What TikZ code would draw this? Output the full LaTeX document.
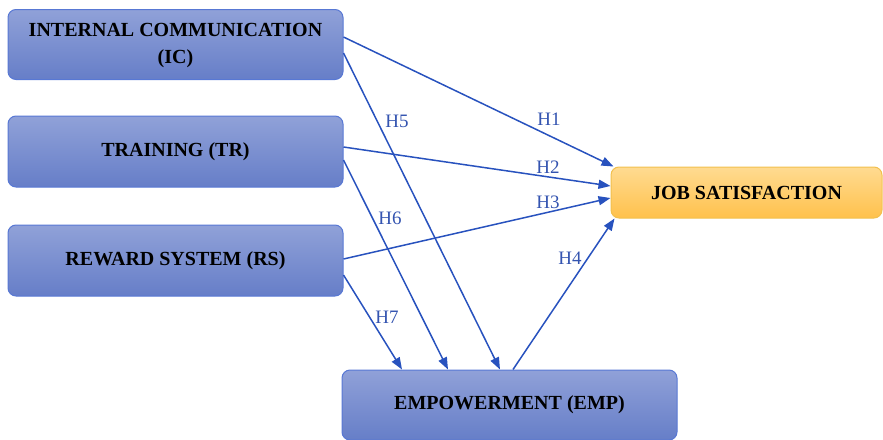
\documentclass[tikz,border=0pt]{standalone}
\usepackage{fontspec}
\setmainfont{Liberation Serif}
\usetikzlibrary{arrows.meta}
\definecolor{boxtop}{RGB}{144,161,216}
\definecolor{boxbot}{RGB}{102,126,200}
\definecolor{boxline}{RGB}{88,120,212}
\definecolor{jstop}{RGB}{255,219,145}
\definecolor{jsbot}{RGB}{255,193,76}
\definecolor{jsline}{RGB}{242,192,78}
\definecolor{arr}{RGB}{40,82,190}
\definecolor{lab}{RGB}{52,84,176}
\tikzset{
  bluebox/.style={draw=boxline, line width=1pt, rounded corners=8pt, top color=boxtop, bottom color=boxbot,
    minimum width=335pt, minimum height=70pt, align=center, inner sep=0pt,
    font=\fontsize{20}{28}\selectfont\bfseries, text=black},
  jsbox/.style={draw=jsline, line width=1pt, rounded corners=8pt, top color=jstop, bottom color=jsbot,
    minimum width=271pt, minimum height=51pt, inner sep=0pt,
    font=\fontsize{20}{28}\selectfont\bfseries, text=black},
  link/.style={draw=arr, line width=1.5pt, -{Triangle[length=12pt,width=9pt]}},
  hlab/.style={text=lab, font=\fontsize{19}{21}\selectfont, inner sep=0pt}
}
\begin{document}
\begin{tikzpicture}[x=1pt,y=-1pt]
\useasboundingbox (0,0) rectangle (883,439);
\node[bluebox] (ic) at (175.5,44.5) {\raisebox{-3pt}{\begin{tabular}{@{}c@{}}INTERNAL COMMUNICATION\\[-0.5pt](IC)\end{tabular}}};
\node[bluebox, minimum height=71pt] (tr) at (175.5,151.5) {TRAINING (TR)};
\node[bluebox, minimum height=71pt] (rs) at (175.5,260.5) {REWARD SYSTEM (RS)};
\node[jsbox] (js) at (746.5,192.5) {JOB SATISFACTION};
\node[bluebox] (emp) at (509.5,405) {EMPOWERMENT (EMP)};

\draw[link] ([yshift=7.5pt]ic.east) -- ([xshift=3pt]js.north west);
\draw[link] ([yshift=-8.5pt]ic.east) -- ([xshift=-9.5pt]emp.north);
\draw[link] ([yshift=4.5pt]tr.east) -- ([yshift=6.5pt]js.west);
\draw[link] ([yshift=-8.5pt]tr.east) -- ([xshift=-61.5pt]emp.north);
\draw[link] ([yshift=1.5pt]rs.east) -- ([yshift=-5.5pt]js.west);
\draw[link] ([yshift=-14.5pt]rs.east) -- ([xshift=-107.5pt]emp.north);
\draw[link] ([xshift=3.5pt]emp.north) -- ([xshift=4pt]js.south west);

\node[hlab] (h1) at (549,119) {H1};
\node[hlab] (h2) at (548,167) {H2};
\node[hlab] (h3) at (548,202) {H3};
\node[hlab] (h4) at (570,258) {H4};
\node[hlab] (h5) at (397,121) {H5};
\node[hlab] (h6) at (390,218) {H6};
\node[hlab] (h7) at (387,317) {H7};
\end{tikzpicture}
\end{document}
